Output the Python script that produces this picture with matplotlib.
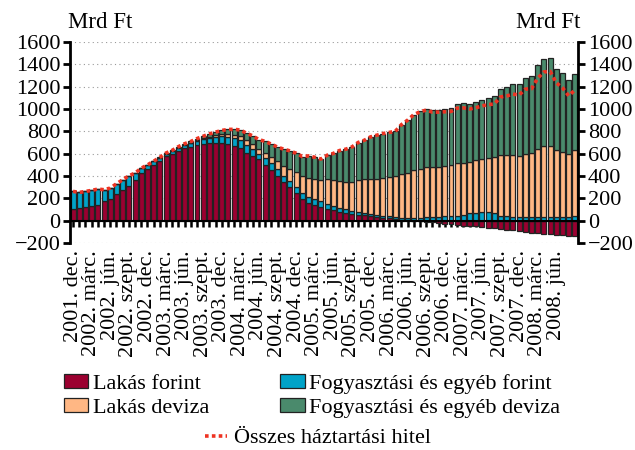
import numpy as np
import matplotlib
matplotlib.use("Agg")
import matplotlib.pyplot as plt
from matplotlib.patches import Patch
from matplotlib.lines import Line2D

plt.rcParams["font.family"] = ["Liberation Serif", "DejaVu Serif"]

# ─── Data (Mrd Ft, monthly, 2001 dec – 2008 szept) ───────────────────────────
lakas_forint = [
    104, 113, 122, 128, 143, 173, 194, 238, 277, 313, 366, 426, 461, 500, 536,
    575, 598, 628, 649, 664, 679, 688, 694, 694, 694, 688, 673, 650, 610, 580,
    548, 500, 455, 396, 342, 301, 247, 195, 160, 140, 122, 108, 95, 82, 72,
    63, 55, 48, 40, 33, 28, 22, 15, 10, 5, 0, -5, -10,
    -16, -22, -28, -34, -40, -44, -48, -52, -56, -62, -68, -74, -80, -88,
    -95, -102, -110, -114, -118, -122, -126, -132, -138, -140,
]
fogy_forint = [
    158, 140, 140, 143, 140, 104, 98, 92, 89, 89, 60, 44, 38, 32, 28,
    26, 26, 26, 28, 30, 35, 40, 48, 55, 60, 65, 70, 72, 70, 62,
    53, 57, 60, 65, 60, 58, 55, 52, 55, 55, 50, 42, 38, 35, 30,
    27, 25, 22, 20, 20, 18, 18, 18, 18, 20, 22, 25, 30,
    35, 35, 38, 38, 45, 50, 65, 72, 75, 75, 72, 45, 40, 35,
    35, 35, 32, 32, 32, 30, 30, 35, 35, 40,
]
lakas_deviza = [
    0, 0, 0, 0, 0, 0, 0, 0, 0, 0, 0, 0, 0, 0, 0,
    0, 0, 1, 2, 3, 5, 8, 10, 14, 18, 22, 28, 35, 38, 42,
    45, 48, 57, 75, 89, 108, 130, 150, 165, 175, 190, 220, 235, 240, 246,
    258, 283, 299, 309, 319, 332, 353, 369, 389, 404, 430, 436, 452,
    447, 447, 450, 459, 467, 470, 462, 470, 475, 488, 500, 541, 546, 551,
    545, 566, 573, 614, 638, 640, 601, 581, 566, 591,
]
fogy_deviza = [
    0, 0, 0, 0, 0, 0, 0, 0, 0, 0, 0, 0, 0, 0, 3,
    5, 6, 8, 10, 12, 16, 20, 25, 30, 36, 42, 47, 55, 65, 75,
    80, 105, 113, 123, 149, 158, 172, 177, 200, 198, 190, 216, 234, 271, 292,
    312, 337, 351, 381, 393, 402, 397, 398, 443, 471, 498, 519, 518,
    506, 512, 515, 515, 536, 534, 521, 521, 534, 538, 541, 596, 611, 635,
    641, 679, 687, 744, 780, 789, 729, 706, 655, 679,
]

months = ["dec.", "márc.", "jún.", "szept."]
tick_labels = []
for k in range(27):
    m = 11 + 3 * k  # months since 2001 jan (0-based)
    tick_labels.append(f"{2001 + m // 12}. {months[k % 4]}")

# ─── Colours ────────────────────────────────────────────────────────────────
C_LF = "#9b0030"
C_FF = "#00a3c8"
C_LD = "#ffb784"
C_FD = "#4a8a6c"
C_TOT = "#ee3322"
EDGE = "#222222"
FS = 16

lf = np.array(lakas_forint, dtype=float)
ff = np.array(fogy_forint, dtype=float)
ld = np.array(lakas_deviza, dtype=float)
fd = np.array(fogy_deviza, dtype=float)
total = lf + ff + ld + fd
x = np.arange(len(lf))

fig = plt.figure(figsize=(6.35, 4.5), dpi=100)
ax = fig.add_axes([70 / 635, 1 - 243 / 450, 508 / 635, 201 / 450])

w = 0.8
base = np.clip(lf, 0, None)
kw = dict(width=w, edgecolor=EDGE, linewidth=0.9, zorder=2)
ax.bar(x, lf, color=C_LF, **kw)
ax.bar(x, ff, bottom=base, color=C_FF, **kw)
ax.bar(x, ld, bottom=base + ff, color=C_LD, **kw)
ax.bar(x, fd, bottom=base + ff + ld, color=C_FD, **kw)
ax.plot(x, total, color=C_TOT, lw=2.6, linestyle=(0, (1.0, 0.9)), zorder=4)

ax.set_xlim(-0.5, len(x) - 0.5)
ax.set_ylim(-200, 1600)
ax.set_yticks(np.arange(-200, 1601, 200))
ax.yaxis.grid(True, linestyle=(0, (1, 3)), color="#999999", lw=0.8, zorder=0)
ax.set_axisbelow(True)

for side in ("left", "right"):
    ax.spines[side].set_linewidth(2)
ax.spines["top"].set_visible(False)
ax.spines["bottom"].set_position(("data", 0))
ax.spines["bottom"].set_linewidth(1.5)
ax.spines["bottom"].set_zorder(3)

ax.tick_params(axis="y", which="both", labelsize=FS, length=5, width=2,
               direction="out", left=True, right=True, labelleft=True,
               labelright=True, pad=2)
ax.set_xticks(x)
ax.tick_params(axis="x", length=4, width=1.8, direction="out", labelbottom=False)

sec = ax.secondary_xaxis("bottom")
sec.set_xticks(x[::3][:len(tick_labels)])
sec.set_xticklabels(tick_labels, rotation=90, fontsize=FS)
sec.tick_params(length=0, pad=5)
sec.spines["bottom"].set_visible(False)

fig.text(68 / 635, 1 - 22 / 450, "Mrd Ft", fontsize=FS + 0.5, va="center", ha="left")
fig.text(580 / 635, 1 - 22 / 450, "Mrd Ft", fontsize=FS + 0.5, va="center", ha="right")

handles = [
    Patch(facecolor=C_LF, edgecolor=EDGE, lw=0.9, label="Lakás forint"),
    Patch(facecolor=C_LD, edgecolor=EDGE, lw=0.9, label="Lakás deviza"),
    Patch(facecolor=C_FF, edgecolor=EDGE, lw=0.9, label="Fogyasztási és egyéb forint"),
    Patch(facecolor=C_FD, edgecolor=EDGE, lw=0.9, label="Fogyasztási és egyéb deviza"),
]
fig.legend(handles=handles, ncol=2, loc="upper left",
           bbox_to_anchor=(64 / 635, 1 - 374 / 450), frameon=False,
           fontsize=FS, handlelength=1.1, handleheight=0.6,
           handletextpad=0.2, columnspacing=3.2, labelspacing=0.18,
           borderaxespad=0, borderpad=0)
fig.legend(handles=[Line2D([], [], color=C_TOT, lw=2.6, linestyle=(0, (1.0, 0.9)),
                           label="Összes háztartási hitel")],
           loc="center", bbox_to_anchor=(318 / 635, 1 - 438 / 450),
           frameon=False, fontsize=FS, handlelength=1.0, handletextpad=0.3,
           borderaxespad=0, borderpad=0)

fig.savefig("out.png", dpi=100)
